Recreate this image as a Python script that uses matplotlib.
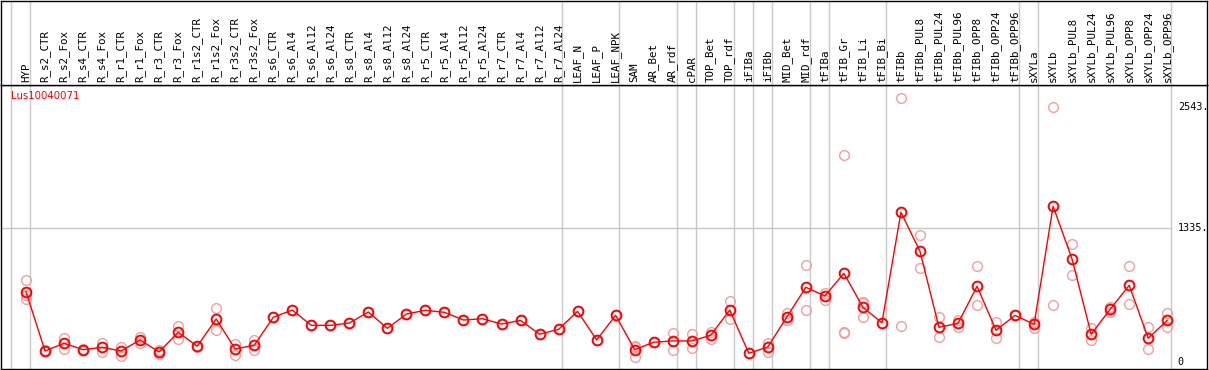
import numpy as np
import matplotlib
matplotlib.use('Agg')
import matplotlib.pyplot as plt

gene = 'Lus10040071'

samples = ['HYP',
           'R_s2_CTR', 'R_s2_Fox', 'R_s4_CTR', 'R_s4_Fox', 'R_r1_CTR', 'R_r1_Fox',
           'R_r3_CTR', 'R_r3_Fox', 'R_r1s2_CTR', 'R_r1s2_Fox', 'R_r3s2_CTR', 'R_r3s2_Fox',
           'R_s6_CTR', 'R_s6_Al4', 'R_s6_Al12', 'R_s6_Al24', 'R_s8_CTR', 'R_s8_Al4',
           'R_s8_Al12', 'R_s8_Al24', 'R_r5_CTR', 'R_r5_Al4', 'R_r5_Al12', 'R_r5_Al24',
           'R_r7_CTR', 'R_r7_Al4', 'R_r7_Al12', 'R_r7_Al24',
           'LEAF_N', 'LEAF_P', 'LEAF_NPK',
           'SAM', 'AR_Bet', 'AR_rdf',
           'cPAR',
           'TOP_Bet', 'TOP_rdf',
           'iFIBa',
           'iFIBb',
           'MID_Bet', 'MID_rdf',
           'tFIBa',
           'tFIB_Gr', 'tFIB_Li', 'tFIB_Bi',
           'tFIBb', 'tFIBb_PUL8', 'tFIBb_PUL24', 'tFIBb_PUL96', 'tFIBb_OPP8',
           'tFIBb_OPP24', 'tFIBb_OPP96',
           'sXYLa',
           'sXYLb', 'sXYLb_PUL8', 'sXYLb_PUL24', 'sXYLb_PUL96', 'sXYLb_OPP8',
           'sXYLb_OPP24', 'sXYLb_OPP96']

# mean expression per sample
means = [702, 110, 187, 123, 147, 110, 220, 100, 297, 157, 429, 130, 167,
         446, 519, 366, 366, 389, 499, 336, 479, 516, 496, 419, 432, 379, 416,
         277, 326, 506, 220, 466, 123, 197, 210, 210, 267, 519, 87, 150, 449,
         746, 659, 886, 546, 392, 1495, 1105, 346, 386, 756, 316, 466, 376,
         1555, 1025, 277, 526, 766, 237, 416]

# individual replicates
replicates = [[816, 626, 664], [105, 115], [243, 133], [118, 128], [193, 100],
              [150, 60], [247, 190], [120, 80], [359, 227], [150, 164],
              [536, 319], [177, 70], [220, 120],
              [446], [519], [366], [366], [389], [499], [336], [479], [516],
              [496], [419], [432], [379], [416], [277], [326], [506], [220], [466],
              [153, 53, 160], [197], [287, 117], [280, 137], [303, 227], [609, 429],
              [87], [193, 97], [486, 419], [965, 519], [692, 619],
              [2064, 303, 287], [602, 446, 590], [392], [2633, 362],
              [1265, 936], [446, 247], [419, 352], [955, 566], [396, 243], [466],
              [399, 342], [2543, 566], [1175, 866], [336, 217], [546, 502],
              [955, 576], [346, 127], [486, 352]]

# last sample index of each group (grey separators)
group_ends = [-1, 0, 28, 31, 34, 35, 37, 38, 39, 41, 42, 45, 52, 53, 60]

y_marks = [0, 1335, 2543]
y_mark_labels = ['0', '1335.', '2543.']

W, H = 1209, 370
fig = plt.figure(figsize=(W / 100, H / 100), dpi=100)

x0, x1 = -1.314, 62.09
ylo, yhi = -70, 2766
grey = '#c8c8c8'

ax = fig.add_axes([1 / W, 1 / H, 1206 / W, 284 / H])
hd = fig.add_axes([1 / W, 285 / H, 1206 / W, 84 / H])

x = np.arange(len(samples))

for a in (ax, hd):
    a.set_xlim(x0, x1)
    a.set_xticks([])
    a.set_yticks([])
    for s in a.spines.values():
        s.set_linewidth(1.0)
        s.set_color('black')
    for g in group_ends:
        a.axvline(g + 0.2, color=grey, lw=1.0, zorder=1)

ax.set_ylim(ylo, yhi)
hd.set_ylim(0, 1)

# grey reference line at 1335, up to last separator
ax.plot([x0, group_ends[-1] + 0.2], [1335, 1335], color=grey, lw=1.0, zorder=1)

for i, reps in enumerate(replicates):
    ax.plot([i] * len(reps), reps, 'o', ms=7, mfc='none', mec='#f0a0a0',
            mew=1.0, zorder=2)

ax.plot(x, means, '-', color='red', lw=1.0, zorder=3)
ax.plot(x, means, 'o', ms=7, mfc='none', mec='red', mew=1.4, zorder=4)

for v, t in zip(y_marks, y_mark_labels):
    ax.text(60.55, v, t, ha='left', va='center', fontsize=7.3,
            family='DejaVu Sans Mono', color='black')

ax.text(-0.8, yhi - 60, gene, ha='left', va='top', fontsize=7.3,
        family='DejaVu Sans', color='red')

for i, s in enumerate(samples):
    hd.text(i, 0.03, s, rotation=90, ha='center', va='bottom', fontsize=7.8,
            family='DejaVu Sans Mono', color='black')

fig.savefig('out.png', dpi=100)
